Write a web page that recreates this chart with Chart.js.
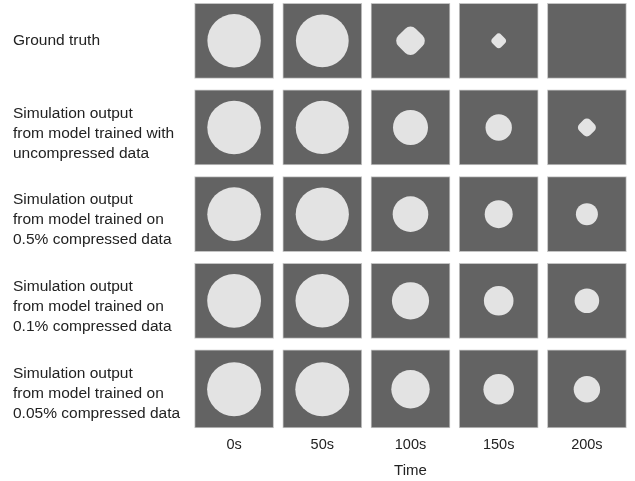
<!DOCTYPE html>
<html>
<head>
<meta charset="utf-8">
<script src="https://cdn.jsdelivr.net/npm/chart.js@4.4.1/dist/chart.umd.min.js"></script>
<style>
  html, body { margin: 0; padding: 0; background: #ffffff; }
  #wrap { width: 635px; height: 481px; }
</style>
</head>
<body>
<div id="wrap"><canvas id="grid" width="635" height="481"></canvas></div>
<script>
// Snapshot times (columns)
const times = ['0s', '50s', '100s', '150s', '200s'];

// Row labels (one per simulation source)
const rowLabels = [
  'Ground truth',
  ['Simulation output', 'from model trained with', 'uncompressed data'],
  ['Simulation output', 'from model trained on', '0.5% compressed data'],
  ['Simulation output', 'from model trained on', '0.1% compressed data'],
  ['Simulation output', 'from model trained on', '0.05% compressed data']
];

// Droplet radius (px) at each snapshot; 0 = droplet has vanished
const groundTruth   = [26.7, 26.4, 14.3, 7.2, 0];
const uncompressed  = [26.8, 26.6, 17.5, 13.2, 9.0];
const compressed05  = [26.8, 26.6, 17.8, 14.0, 11.0];
const compressed01  = [26.9, 26.8, 18.6, 14.8, 12.3];
const compressed005 = [27.0, 27.0, 19.2, 15.3, 13.2];

// Droplet outline at each snapshot
const groundTruthShape   = ['circle', 'circle', 'rectRounded', 'rectRounded', 'circle'];
const uncompressedShape  = ['circle', 'circle', 'circle', 'circle', 'rectRounded'];
const compressed05Shape  = ['circle', 'circle', 'circle', 'circle', 'circle'];
const compressed01Shape  = ['circle', 'circle', 'circle', 'circle', 'circle'];
const compressed005Shape = ['circle', 'circle', 'circle', 'circle', 'circle'];

const radiusRows = [groundTruth, uncompressed, compressed05, compressed01, compressed005];
const shapeRows  = [groundTruthShape, uncompressedShape, compressed05Shape, compressed01Shape, compressed005Shape];

// Background panels: one floating bar per cell
const PANEL_HALF = 0.433;
const panels = [];
radiusRows.forEach((_, r) => {
  const lo = r - PANEL_HALF;
  const hi = r + (r === radiusRows.length - 1 ? PANEL_HALF + 0.035 : PANEL_HALF);
  times.forEach((_, c) => panels.push({ x: c, y: [lo, hi] }));
});

// Droplets: bubbles centred in each panel
const droplets = [];
const dropletShapes = [];
radiusRows.forEach((row, r) => {
  row.forEach((rad, c) => {
    if (rad > 0) {
      droplets.push({ x: c, y: r + (r === radiusRows.length - 1 ? 0.02 : 0), r: rad });
      dropletShapes.push(shapeRows[r][c]);
    }
  });
});

const FONT = '"Liberation Sans", Arial, Helvetica, sans-serif';

new Chart(document.getElementById('grid'), {
  type: 'bar',
  data: {
    datasets: [
      {
        type: 'bubble',
        data: droplets,
        backgroundColor: '#e3e3e3',
        borderWidth: 0,
        pointStyle: ctx => dropletShapes[ctx.dataIndex],
        rotation: ctx => dropletShapes[ctx.dataIndex] === 'rectRounded' ? 45 : 0,
        order: 1
      },
      {
        type: 'bar',
        data: panels,
        backgroundColor: '#636363',
        borderColor: '#c4c4c4',
        borderWidth: 1,
        borderSkipped: false,
        barThickness: 79,
        order: 2
      }
    ]
  },
  options: {
    responsive: false,
    devicePixelRatio: 1,
    animation: false,
    events: [],
    layout: { autoPadding: false, padding: { left: 13, right: 4, top: 0, bottom: 0 } },
    plugins: {
      legend: { display: false },
      tooltip: { enabled: false }
    },
    scales: {
      x: {
        type: 'linear',
        offset: false,
        min: -0.5,
        max: 4.5,
        grid: { display: false, drawTicks: false },
        border: { display: false },
        afterBuildTicks: s => { s.ticks = times.map((_, i) => ({ value: i })); },
        afterFit: s => { s.height = 49; s.paddingLeft = 0; s.paddingRight = 0; },
        ticks: {
          autoSkip: false,
          maxRotation: 0,
          padding: 4,
          color: '#222222',
          font: { family: FONT, size: 14.5 },
          callback: v => times[v]
        },
        title: {
          display: true,
          text: 'Time',
          color: '#222222',
          font: { family: FONT, size: 15 },
          padding: { top: 0, bottom: 1 }
        }
      },
      y: {
        type: 'linear',
        reverse: true,
        min: -0.4707,
        max: 4.5137,
        grid: { display: false, drawTicks: false },
        border: { display: false },
        // multi-line captions sit slightly below their row centre
        afterBuildTicks: s => {
          s.ticks = rowLabels.map((l, i) => ({ value: i + (Array.isArray(l) ? 0.07 : 0) }));
        },
        afterFit: s => { s.width = 177; s.paddingTop = 0; s.paddingBottom = 0; },
        ticks: {
          autoSkip: false,
          crossAlign: 'far',
          color: '#222222',
          font: { family: FONT, size: 15.5, lineHeight: 1.29 },
          callback: v => rowLabels[Math.round(v)]
        }
      }
    }
  }
});
</script>
</body>
</html>
